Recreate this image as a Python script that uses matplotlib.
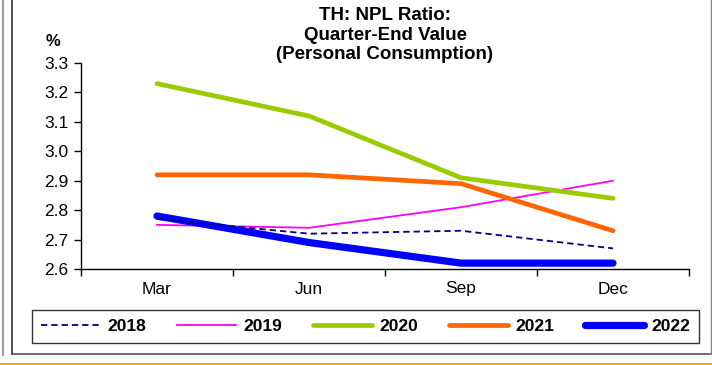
import matplotlib
matplotlib.use("Agg")
import matplotlib.pyplot as plt
from matplotlib.lines import Line2D

plt.rcParams['font.family'] = ['Liberation Sans', 'DejaVu Sans']

quarters = ["Mar", "Jun", "Sep", "Dec"]
npl_2018 = [2.77, 2.72, 2.73, 2.67]
npl_2019 = [2.75, 2.74, 2.81, 2.90]
npl_2020 = [3.23, 3.12, 2.91, 2.84]
npl_2021 = [2.92, 2.92, 2.89, 2.73]
npl_2022 = [2.78, 2.69, 2.62, 2.62]
yticks = [2.6, 2.7, 2.8, 2.9, 3.0, 3.1, 3.2, 3.3]

W, H = 712, 365
fig = plt.figure(figsize=(W / 100, H / 100), dpi=100)


def fx(px):
    return px / W


def fy(py):
    return 1 - py / H


ax = fig.add_axes([fx(81), fy(269), fx(689) - fx(81), fy(63) - fy(269)])

x = list(range(len(quarters)))
series = [
    ("2018", npl_2018, dict(color="#000080", lw=1.3, ls=(0, (3.5, 2.2)))),
    ("2019", npl_2019, dict(color="#FF00FF", lw=1.3)),
    ("2020", npl_2020, dict(color="#99CC00", lw=3.4, solid_capstyle="round")),
    ("2021", npl_2021, dict(color="#FF6600", lw=3.4, solid_capstyle="round")),
    ("2022", npl_2022, dict(color="#0000FF", lw=5.2, solid_capstyle="round")),
]
handles = []
for name, vals, style in series:
    (ln,) = ax.plot(x, vals, label=name, zorder=2, **style)
    handles.append(ln)
# dashed 2018 line drawn above the thick 2022 line
handles[0].set_zorder(2.5)

ax.set_xlim(-0.5, 3.5)
ax.set_ylim(2.6, 3.3)
ax.set_yticks(yticks)
ax.set_yticklabels([f"{v:.1f}" for v in yticks], fontsize=12.5)
ax.set_xticks([-0.5, 0.5, 1.5, 2.5, 3.5])
ax.set_xticklabels([])
ax.set_xticks(x, minor=True)
ax.set_xticklabels(quarters, minor=True, fontsize=12.5)
ax.tick_params(axis="x", which="major", direction="out", length=5, width=1)
ax.tick_params(axis="x", which="minor", length=0, pad=9)
ax.tick_params(axis="y", direction="out", length=5, width=1, pad=4)
for s in ("top", "right"):
    ax.spines[s].set_visible(False)
for s in ("left", "bottom"):
    ax.spines[s].set_linewidth(1.0)

fig.text(fx(46), fy(42), "%", fontsize=12, fontweight="bold", ha="left", va="center")
fig.text(fx(385), fy(35), "TH: NPL Ratio:\nQuarter-End Value\n(Personal Consumption)",
         fontsize=13.5, fontweight="bold", ha="center", va="center", linespacing=1.22)

leg = fig.legend(handles=handles, loc="center",
                 bbox_to_anchor=(fx(365.5), fy(326.5)), ncol=5, frameon=True,
                 prop=dict(size=12.5, weight="bold"), handlelength=3.4,
                 handletextpad=0.45, columnspacing=1.75, borderpad=0.5,
                 borderaxespad=0, fancybox=False, edgecolor="black")
leg.get_frame().set_linewidth(1.0)

# Outer frame lines and bottom accent
fig.add_artist(Line2D([fx(3), fx(3)], [fy(0), fy(355)], color="#A0A0A0", lw=1.5))
fig.add_artist(Line2D([fx(11.5), fx(11.5)], [fy(0), fy(354)], color="#333333", lw=1.2))
fig.add_artist(Line2D([fx(11.5), fx(710)], [fy(354), fy(354)], color="#555555", lw=1.2))
fig.add_artist(Line2D([fx(710.5), fx(710.5)], [fy(0), fy(354)], color="#808080", lw=1.0))
fig.add_artist(Line2D([0, 1], [fy(363.5), fy(363.5)], color="#FFA500", lw=2.2))

fig.savefig("out.png", dpi=100)
